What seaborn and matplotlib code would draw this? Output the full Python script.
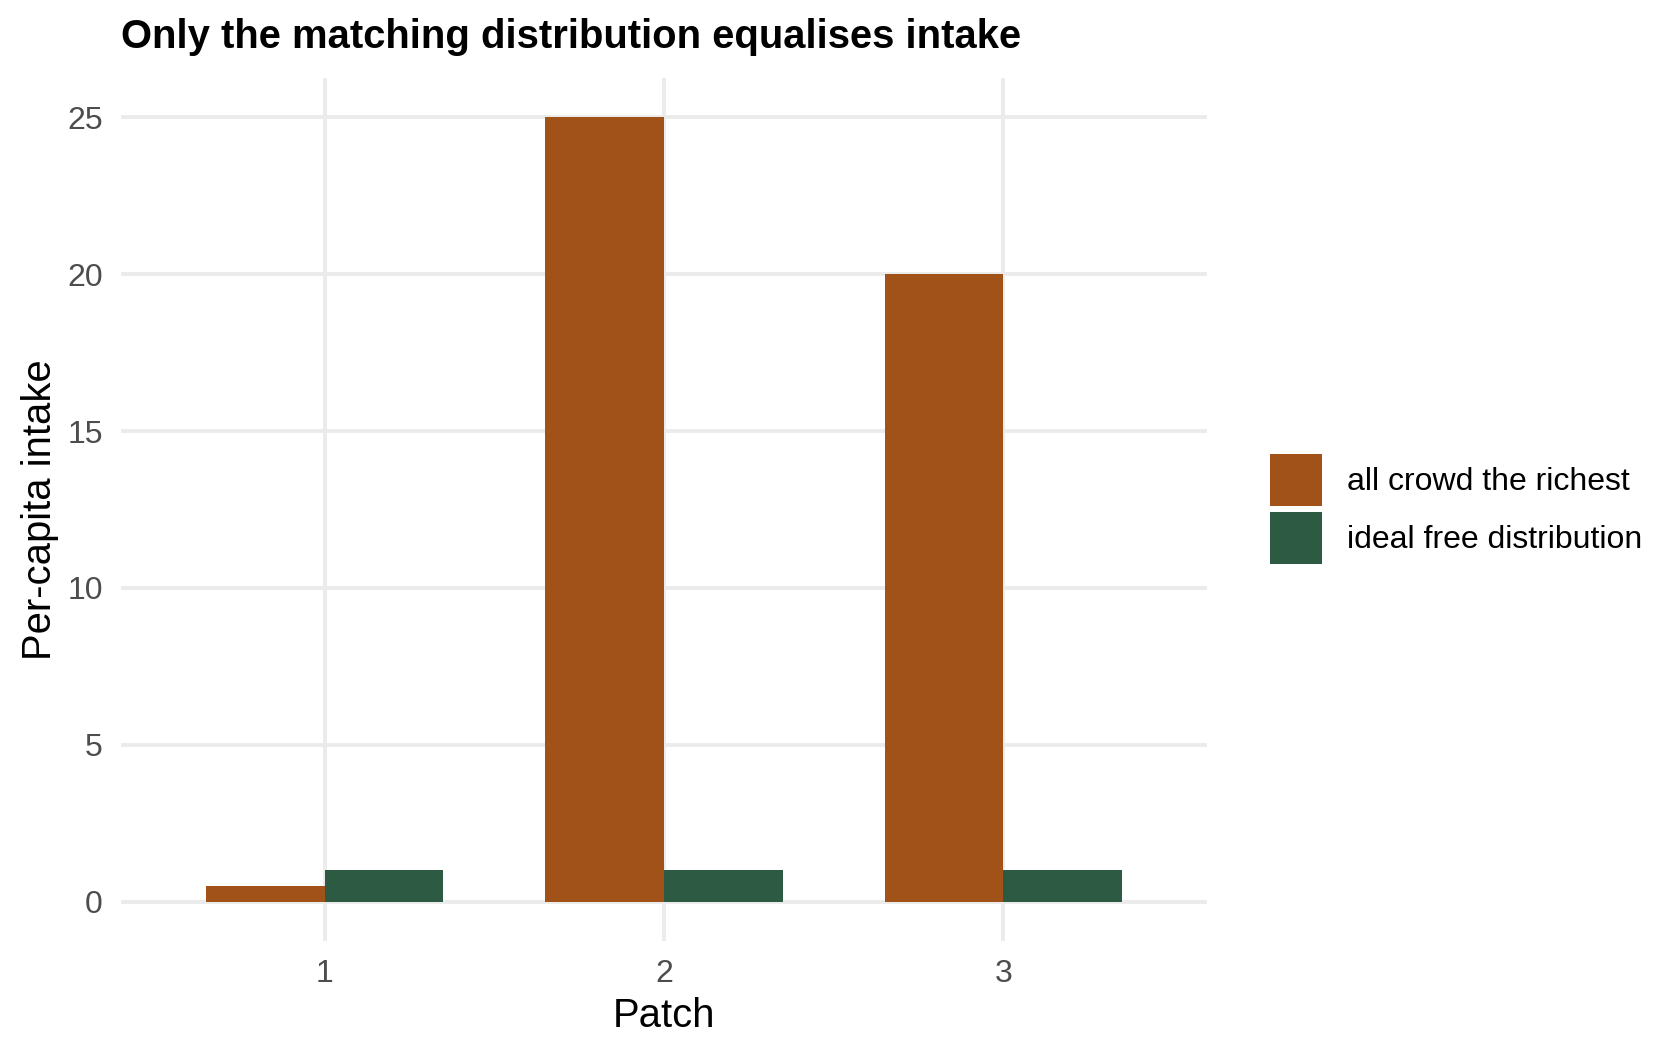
import pandas as pd
import seaborn as sns
import matplotlib.pyplot as plt

patches = ['1', '2', '3']
crowd = [0.5, 25, 20]
ideal = [1, 1, 1]
scenarios = ['all crowd the richest', 'ideal free distribution']
colors = ['#A15219', '#2D5A43']

df = pd.DataFrame({
    'Patch': patches * 2,
    'intake': crowd + ideal,
    'scenario': [scenarios[0]] * 3 + [scenarios[1]] * 3,
})

sns.set_theme(style='whitegrid')
plt.rcParams['font.family'] = ['Liberation Sans', 'DejaVu Sans']

fig, ax = plt.subplots(figsize=(8.4, 5.28), dpi=200)
fig.subplots_adjust(left=0.072, right=0.7185, top=0.926, bottom=0.109)

sns.barplot(data=df, x='Patch', y='intake', hue='scenario', palette=colors,
            width=0.7, gap=0, saturation=1, linewidth=0, ax=ax)

ax.set_xlim(-0.6, 2.6)
ax.set_ylim(-1.25, 26.25)
ax.set_yticks([0, 5, 10, 15, 20, 25])
for s in ax.spines.values():
    s.set_visible(False)
ax.grid(True, color='#EBEBEB', linewidth=1.4)
ax.set_axisbelow(True)
ax.tick_params(axis='both', length=0, labelsize=11.5, labelcolor='#4D4D4D', pad=6.5)
ax.set_xlabel('Patch', fontsize=14.4, color='black', labelpad=3)
ax.set_ylabel('Per-capita intake', fontsize=14.4, color='black', labelpad=3)
ax.set_title('Only the matching distribution equalises intake', loc='left',
             fontsize=14.4, fontweight='bold', color='black', pad=11)

leg = ax.legend(title=None, frameon=False, fontsize=11.5, loc='center left',
                bbox_to_anchor=(0.756, 0.518), bbox_transform=fig.transFigure,
                handlelength=1.63, handleheight=2.17, labelspacing=0.16,
                handletextpad=0.78, borderpad=0, borderaxespad=0)
for t in leg.get_texts():
    t.set_color('black')

fig.savefig('out.png', dpi=200)
